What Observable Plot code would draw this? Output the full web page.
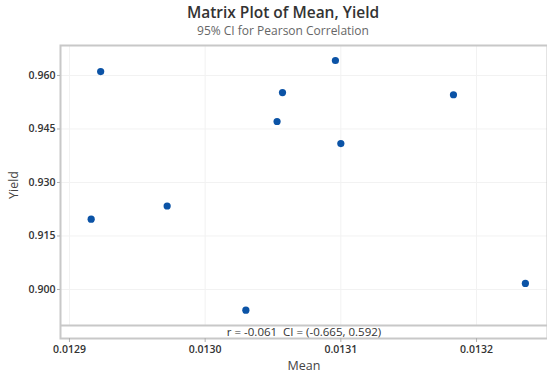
<!DOCTYPE html>
<html>
<head>
<meta charset="utf-8">
<script src="https://cdn.jsdelivr.net/npm/d3@7"></script>
<script src="https://cdn.jsdelivr.net/npm/@observablehq/plot@0.6"></script>
<style>
  html, body { margin: 0; padding: 0; background: #fff; }
  #wrap { position: relative; width: 547px; height: 376px; overflow: hidden; font-family: "Open Sans", sans-serif; }
  #title { position: absolute; left: 0; width: 566px; top: 2px; text-align: center; font-size: 15.5px; font-weight: 600; color: #333; line-height: 20px; }
  #subtitle { position: absolute; left: 0; width: 566px; top: 23px; text-align: center; font-size: 12px; color: #666; line-height: 16px; }
  #chart { position: absolute; left: 0; top: 0; }
</style>
</head>
<body>
<div id="wrap">
  <div id="chart"></div>
  <div id="title">Matrix Plot of Mean, Yield</div>
  <div id="subtitle">95% CI for Pearson Correlation</div>
</div>
<script>
const meanVals  = [0.012923, 0.012916, 0.012972, 0.013030, 0.013053, 0.013057, 0.013096, 0.013100, 0.013183, 0.013236];
const yieldVals = [0.9611, 0.9197, 0.9234, 0.8942, 0.9471, 0.9552, 0.9642, 0.9409, 0.9546, 0.9017];
const xTicks = [0.0129, 0.0130, 0.0131, 0.0132];
const yTicks = [0.900, 0.915, 0.930, 0.945, 0.960];
const xTickLabels = ["0.0129", "0.0130", "0.0131", "0.0132"];
const yTickLabels = ["0.900", "0.915", "0.930", "0.945", "0.960"];
const annotation = ["r = -0.061  CI = (-0.665, 0.592)"];

const xDomain = [0.0128934, 0.0132523];
const yDomain = [0.88626, 0.9684];
const yDataBottom = 0.8899;   // separator between data area and annotation strip
const yAnnot = 0.8880;

const data = meanVals.map((m, i) => ({mean: m, yield: yieldVals[i]}));

const plot = Plot.plot({
  width: 547,
  height: 376,
  marginLeft: 60,
  marginRight: 0,
  marginTop: 45,
  marginBottom: 38,
  style: {fontFamily: "Open Sans, sans-serif", background: "transparent"},
  x: {domain: xDomain, ticks: xTicks, tickFormat: (d, i) => xTickLabels[i], label: null},
  y: {domain: yDomain, ticks: yTicks, tickFormat: (d, i) => yTickLabels[i], label: null},
  marks: [
    Plot.ruleX(xTicks, {y1: yDataBottom, y2: yDomain[1], stroke: "#f2f2f2", strokeWidth: 1}),
    Plot.ruleY(yTicks, {stroke: "#f2f2f2", strokeWidth: 1}),
    Plot.ruleY([yDataBottom], {stroke: "#c8c8c8", strokeWidth: 2}),
    Plot.frame({stroke: "#c8c8c8", strokeWidth: 2}),
    Plot.axisX({ticks: xTicks, tickFormat: (d, i) => xTickLabels[i], tickSize: 4, tickPadding: 3, stroke: "#b0b0b0", fill: "#333", fontSize: 10.5, fontWeight: 600, label: null}),
    Plot.axisY({ticks: yTicks, tickFormat: (d, i) => yTickLabels[i], tickSize: 3, tickPadding: 2, stroke: "#b0b0b0", fill: "#333", fontSize: 10.5, fontWeight: 600, label: null}),
    Plot.text(annotation, {x: () => (xDomain[0] + xDomain[1]) / 2, y: () => yAnnot, fontSize: 11.5, fill: "#333"}),
    Plot.text(["Mean"], {frameAnchor: "bottom", dy: 31, fontSize: 12.5, fontWeight: 500, fill: "#444"}),
    Plot.text(["Yield"], {frameAnchor: "left", dx: -47, dy: 7, rotate: -90, fontSize: 12.5, fontWeight: 500, fill: "#444"}),
    Plot.dot(data, {x: "mean", y: "yield", r: 3.6, fill: "#0b53a6", stroke: "none"})
  ]
});
document.getElementById("chart").appendChild(plot);
</script>
</body>
</html>
